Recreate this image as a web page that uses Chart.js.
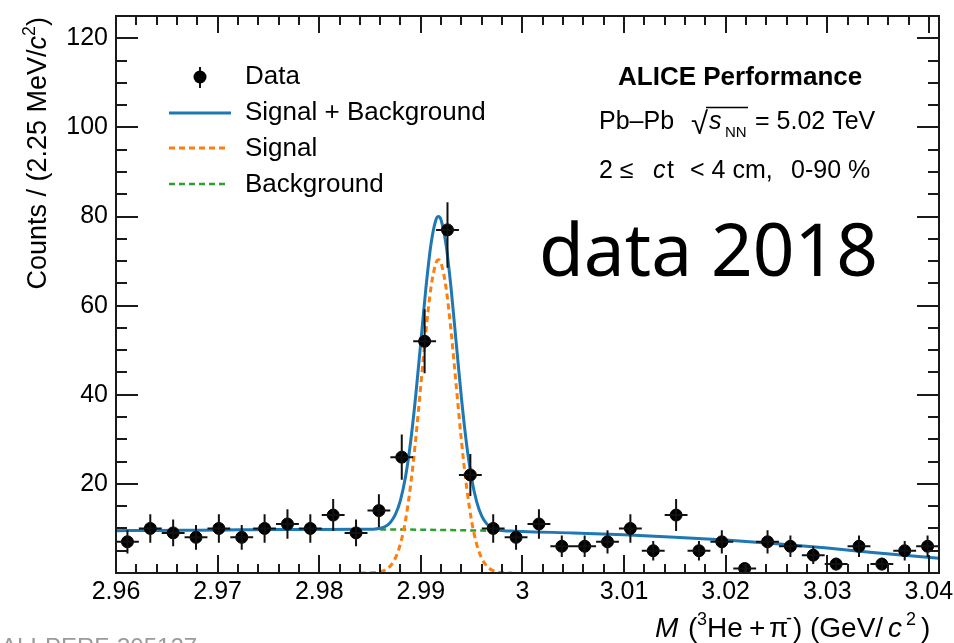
<!DOCTYPE html>
<html>
<head>
<meta charset="utf-8">
<script src="https://cdn.jsdelivr.net/npm/chart.js@4/dist/chart.umd.min.js"></script>
<style>
html,body{margin:0;padding:0;background:#fff;}
canvas{display:block;}
</style>
</head>
<body>
<canvas id="c" width="954" height="643"></canvas>
<script>
// ---------- data ----------
const binCenters = [2.961125,2.963375,2.965625,2.967875,2.970125,2.972375,2.974625,2.976875,2.979125,2.981375,
  2.983625,2.985875,2.988125,2.990375,2.992625,2.994875,2.997125,2.999375,3.001625,3.003875,
  3.006125,3.008375,3.010625,3.012875,3.015125,3.017375,3.019625,3.021875,3.024125,3.026375,
  3.028625,3.030875,3.033125,3.035375,3.037625,3.039875];
const counts = [7,10,9,8,10,8,10,11,10,13,9,14,26,52,77,22,10,8,11,6,6,7,10,5,13,5,7,1,7,6,4,2,6,2,5,6];
const errHigh = [2.6,3.2,3,2.8,3.2,2.8,3.2,3.3,3.2,3.6,3,3.7,5.1,7.2,6.2,4.7,3.2,2.8,3.3,2.4,2.4,2.6,3.2,2.2,3.6,2.2,2.6,1,2.6,2.4,2,1.4,2.4,1.4,2.2,2.4];
const errLow  = [2.6,3.2,3,2.8,3.2,2.8,3.2,3.3,3.2,3.6,3,3.7,5.1,7.2,8.5,4.7,3.2,2.8,3.3,2.4,2.4,2.6,3.2,2.2,3.6,2.2,2.6,1,2.6,2.4,2,1.4,2.4,1.4,2.2,2.4];
const binHalfWidth = 0.001125; // 2.25 MeV bins

// Signal + Background fit curve
const totX = [2.960,2.964,2.968,2.972,2.976,2.980,2.984,2.9845,2.9850,2.9855,2.9860,2.9865,2.9870,2.9875,2.9880,2.9885,
  2.9890,2.9895,2.9900,2.9905,2.9910,2.9915,2.99174,2.9920,2.9925,2.9930,2.9935,2.9940,2.9945,2.9950,2.9955,2.9960,
  2.9965,2.9970,2.9975,2.9980,2.9985,2.9990,2.9995,3.000,3.005,3.010,3.015,3.020,3.025,3.030,3.035,3.041];
const totY = [9.50,9.55,9.62,9.68,9.74,9.78,9.80,9.80,9.82,9.88,10.05,10.45,11.35,13.13,16.37,21.67,
  29.50,39.83,51.86,63.92,73.79,79.31,79.98,79.17,73.41,63.39,51.26,39.24,28.97,21.21,15.98,12.78,
  11.02,10.13,9.71,9.52,9.44,9.40,9.36,9.30,9.00,8.60,8.05,7.40,6.55,5.60,4.50,3.30];

// Signal curve
const sigX = [2.9840,2.9845,2.9850,2.9855,2.9860,2.9865,2.9870,2.9875,2.9880,2.9885,2.9890,2.9895,2.9900,2.9905,2.9910,2.9915,
  2.99174,2.9920,2.9925,2.9930,2.9935,2.9940,2.9945,2.9950,2.9955,2.9960,2.9965,2.9970,2.9975,2.9980,2.9985,2.9990];
const sigY = [0.003,0.010,0.033,0.098,0.268,0.678,1.578,3.369,6.610,11.92,19.76,30.10,42.14,54.21,64.09,69.62,
  70.30,69.50,63.76,53.76,41.65,29.65,19.40,11.66,6.445,3.272,1.528,0.655,0.258,0.094,0.031,0.0095];

// Background curve (drawn under the peak)
const bkgX = [2.986,2.988,2.990,2.992,2.994,2.9966];
const bkgY = [9.78,9.76,9.72,9.66,9.59,9.50];

// axis ticks
const xTickValues = [2.96,2.97,2.98,2.99,3.00,3.01,3.02,3.03,3.04];
const yTickValues = [0,20,40,60,80,100,120];

// ---------- styling ----------
const FAM = '"Liberation Sans", Arial, Helvetica, sans-serif';
const C_BLUE = '#1f77b4', C_ORANGE = '#ff7f0e', C_GREEN = '#2ca02c', C_INK = '#111';

const pts = (xs, ys) => xs.map((v, i) => ({x: v, y: ys[i]}));

function drawRich(ctx, segs, x, y, size) {
  let cx = x;
  for (const s of segs) {
    const fs = (s.sup || s.sub) ? size * 0.66 : size;
    ctx.font = `${s.it ? 'italic ' : ''}${s.b ? 'bold ' : ''}${fs}px ${FAM}`;
    const dy = s.sup ? -size * 0.42 : (s.sub ? size * 0.28 : 0);
    ctx.fillText(s.t, cx, y + dy);
    cx += ctx.measureText(s.t).width;
  }
  return cx - x;
}
function richWidth(ctx, segs, size) {
  let w = 0;
  for (const s of segs) {
    const fs = (s.sup || s.sub) ? size * 0.66 : size;
    ctx.font = `${s.it ? 'italic ' : ''}${s.b ? 'bold ' : ''}${fs}px ${FAM}`;
    w += ctx.measureText(s.t).width;
  }
  return w;
}

const errorBars = {
  id: 'errorBars',
  afterDatasetsDraw(chart) {
    const {ctx, scales: {x, y}, chartArea: a} = chart;
    ctx.save();
    ctx.beginPath(); ctx.rect(a.left, a.top, a.right - a.left, a.bottom - a.top); ctx.clip();
    ctx.strokeStyle = C_INK; ctx.lineWidth = 2;
    ctx.beginPath();
    binCenters.forEach((c, i) => {
      const px = x.getPixelForValue(c), py = y.getPixelForValue(counts[i]);
      ctx.moveTo(x.getPixelForValue(c - binHalfWidth), py);
      ctx.lineTo(x.getPixelForValue(c + binHalfWidth), py);
      ctx.moveTo(px, y.getPixelForValue(counts[i] + errHigh[i]));
      ctx.lineTo(px, y.getPixelForValue(counts[i] - errLow[i]));
    });
    ctx.stroke();
    ctx.restore();
  }
};

const frameTicks = {
  id: 'frameTicks',
  afterDraw(chart) {
    const {ctx, scales: {x, y}, chartArea: a} = chart;
    ctx.save();
    ctx.strokeStyle = '#1a1a1a'; ctx.lineWidth = 2;
    ctx.beginPath();
    for (let k = 0; k <= 40; k++) {
      const v = 2.96 + k * 0.002;
      const px = Math.round(x.getPixelForValue(v));
      const major = (k % 5 === 0);
      const lb = major ? 18 : 9, lt = major ? 17 : 9;
      ctx.moveTo(px, a.bottom); ctx.lineTo(px, a.bottom - lb);
      ctx.moveTo(px, a.top); ctx.lineTo(px, a.top + lt);
    }
    for (let v = 0; v <= 125; v += 5) {
      const py = Math.round(y.getPixelForValue(v));
      const len = (v % 20 === 0) ? 22 : 11;
      ctx.moveTo(a.left, py); ctx.lineTo(a.left + len, py);
      ctx.moveTo(a.right, py); ctx.lineTo(a.right - len, py);
    }
    ctx.stroke();
    ctx.strokeRect(a.left, a.top, a.right - a.left, a.bottom - a.top);
    ctx.restore();
  }
};

const annotations = {
  id: 'annotations',
  afterDraw(chart) {
    const ctx = chart.ctx;
    ctx.save();
    ctx.fillStyle = '#000';
    ctx.textBaseline = 'alphabetic';
    ctx.textAlign = 'left';

    // ---- legend ----
    ctx.strokeStyle = C_INK; ctx.lineWidth = 2;
    ctx.beginPath(); ctx.moveTo(200, 67); ctx.lineTo(200, 88); ctx.stroke();
    ctx.beginPath(); ctx.arc(200, 77, 6.5, 0, Math.PI * 2); ctx.fill();
    ctx.lineWidth = 3; ctx.strokeStyle = C_BLUE;
    ctx.beginPath(); ctx.moveTo(169, 113); ctx.lineTo(231, 113); ctx.stroke();
    ctx.setLineDash([6, 4]);
    ctx.strokeStyle = C_ORANGE; ctx.lineWidth = 3;
    ctx.beginPath(); ctx.moveTo(169, 148); ctx.lineTo(229, 148); ctx.stroke();
    ctx.strokeStyle = C_GREEN; ctx.lineWidth = 2.5;
    ctx.beginPath(); ctx.moveTo(169, 184); ctx.lineTo(229, 184); ctx.stroke();
    ctx.setLineDash([]);
    ctx.font = `26px ${FAM}`;
    ctx.fillText('Data', 245, 84);
    ctx.fillText('Signal + Background', 245, 120);
    ctx.fillText('Signal', 245, 156);
    ctx.fillText('Background', 245, 192);

    // ---- ALICE text ----
    ctx.font = `bold 26px ${FAM}`;
    ctx.fillText('ALICE Performance', 618, 85);
    ctx.font = `25px ${FAM}`;
    ctx.fillText('Pb\u2013Pb', 599, 129);
    ctx.font = `31px ${FAM}`;
    ctx.fillText('\u221A', 691, 134);
    ctx.strokeStyle = '#000'; ctx.lineWidth = 1.5;
    ctx.beginPath(); ctx.moveTo(706, 107.5); ctx.lineTo(748, 107.5); ctx.stroke();
    ctx.font = `italic 25px ${FAM}`;
    ctx.fillText('s', 709, 129);
    ctx.font = `15px ${FAM}`;
    ctx.fillText('NN', 725, 137);
    ctx.font = `25px ${FAM}`;
    ctx.fillText('= 5.02 TeV', 755, 129);

    ctx.fillText('2 \u2264', 599, 178);
    ctx.font = `italic 25px ${FAM}`;
    ctx.fillText('c', 653, 178);
    ctx.font = `25px ${FAM}`;
    ctx.fillText('t', 667, 178);
    ctx.fillText('< 4 cm,', 690, 178);
    ctx.fillText('0-90 %', 791, 178);

    // ---- big label ----
    const bigFam = '"Noto Sans", "Open Sans", sans-serif';
    ctx.font = `400 70px ${bigFam}`;
    const w70 = ctx.measureText('data 2018').width;
    const bigSize = 70 * 339 / w70;
    ctx.font = `400 ${bigSize}px ${bigFam}`;
    ctx.fillText('data 2018', 539, 276);

    // ---- y axis title (rotated, right aligned to top of frame) ----
    const ySegs = [{t: 'Counts / (2.25 MeV/'}, {t: 'c', it: true}, {t: '2', sup: true}, {t: ')'}];
    const yw = richWidth(ctx, ySegs, 27);
    ctx.save();
    ctx.translate(46, 17);
    ctx.rotate(-Math.PI / 2);
    drawRich(ctx, ySegs, -yw, 0, 27);
    ctx.restore();

    // ---- x axis title ----
    const xb = 636.5;
    ctx.font = `italic 28px ${FAM}`; ctx.fillText('M', 655, xb);
    ctx.font = `28px ${FAM}`; ctx.fillText('(', 688, xb);
    ctx.font = `18px ${FAM}`; ctx.fillText('3', 697, xb - 12);
    ctx.font = `28px ${FAM}`; ctx.fillText('He', 707, xb);
    ctx.fillText('+', 749, xb);
    ctx.fillText('\u03C0', 769, xb);
    ctx.font = `18px ${FAM}`; ctx.fillText('-', 786, xb - 13);
    ctx.font = `28px ${FAM}`; ctx.fillText(')', 793, xb);
    ctx.fillText('(GeV/', 810, xb);
    ctx.font = `italic 28px ${FAM}`; ctx.fillText('c', 888, xb);
    ctx.font = `18px ${FAM}`; ctx.fillText('2', 906, xb - 12);
    ctx.font = `28px ${FAM}`; ctx.fillText(')', 921, xb);

    // ---- clipped figure id at bottom left ----
    ctx.fillStyle = '#9a9a9a';
    ctx.font = `24px ${FAM}`;
    ctx.fillText('ALI-PERF-305127', 1, 655);

    ctx.restore();
  }
};

new Chart(document.getElementById('c'), {
  type: 'scatter',
  data: {
    datasets: [
      {
        label: 'Data',
        data: pts(binCenters, counts),
        pointRadius: 6, pointBorderWidth: 1,
        pointBackgroundColor: '#000', pointBorderColor: '#000',
        showLine: false, order: 0
      },
      {
        label: 'Signal + Background',
        data: pts(totX, totY),
        showLine: true, pointRadius: 0, borderColor: C_BLUE, borderWidth: 3,
        cubicInterpolationMode: 'monotone', fill: false, order: 1
      },
      {
        label: 'Signal',
        data: pts(sigX, sigY),
        showLine: true, pointRadius: 0, borderColor: C_ORANGE, borderWidth: 3,
        borderDash: [6, 4], cubicInterpolationMode: 'monotone', fill: false, order: 2
      },
      {
        label: 'Background',
        data: pts(bkgX, bkgY),
        showLine: true, pointRadius: 0, borderColor: C_GREEN, borderWidth: 2.5,
        borderDash: [6, 4], fill: false, order: 3
      }
    ]
  },
  options: {
    responsive: false,
    animation: false,
    events: [],
    layout: {padding: {left: 0, top: 16, right: 15, bottom: 0}},
    plugins: {legend: {display: false}, tooltip: {enabled: false}, title: {display: false}},
    scales: {
      x: {
        type: 'linear', min: 2.96, max: 3.041,
        grid: {display: false, drawTicks: false},
        border: {display: false},
        afterBuildTicks: ax => { ax.ticks = xTickValues.map(v => ({value: v})); },
        afterFit: ax => { ax.height = 70; ax.paddingLeft = 0; ax.paddingRight = 0; },
        ticks: {
          autoSkip: false, maxRotation: 0, padding: 4, color: '#000',
          font: {family: FAM, size: 25},
          callback: v => String(+Number(v).toFixed(2))
        }
      },
      y: {
        type: 'linear', min: 0, max: 125,
        grid: {display: false, drawTicks: false},
        border: {display: false},
        afterBuildTicks: ax => { ax.ticks = yTickValues.map(v => ({value: v})); },
        afterFit: ax => { ax.width = 116; ax.paddingTop = 0; ax.paddingBottom = 0; },
        ticks: {
          autoSkip: false, padding: 8, color: '#000',
          font: {family: FAM, size: 25},
          callback: v => (v === 0 ? '' : String(v))
        }
      }
    }
  },
  plugins: [errorBars, frameTicks, annotations]
});
</script>
</body>
</html>
